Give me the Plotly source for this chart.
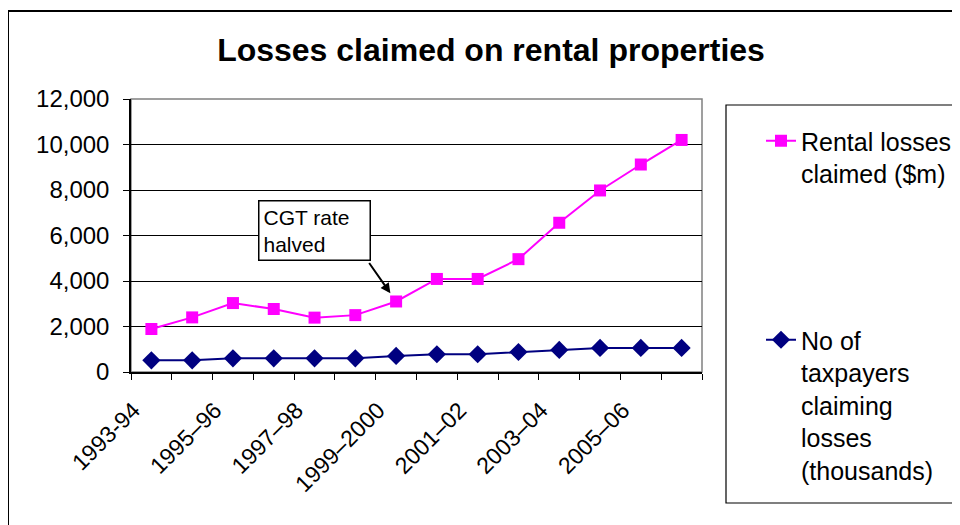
import plotly.graph_objects as go

# financial years (every second one labelled on the axis)
seasons = ["1993-94", "1994–95", "1995–96", "1996–97", "1997–98", "1998–99", "1999–2000",
           "2000–01", "2001–02", "2002–03", "2003–04", "2004–05", "2005–06", "2006–07"]
rental_losses = [1890, 2400, 3030, 2770, 2390, 2500, 3100, 4090, 4090, 4960, 6560, 7980, 9120, 10200]
taxpayers = [515, 515, 600, 600, 600, 600, 705, 780, 780, 880, 970, 1060, 1060, 1060]
tick_text = [s if i % 2 == 0 else "" for i, s in enumerate(seasons)]

FONT = "Arial, Liberation Sans, sans-serif"
W, H = 960, 525
OFF = 8  # page body margin in front of the figure
# plot area wanted on the page: left 131, right 702, top 99, bottom 372
L, T = 131 - OFF, 99 - OFF
R, B = W - (702 - OFF), H - (372 - OFF)
PW, PH = W - L - R, H - T - B


def px_x(px):
    return (px - OFF - L) / PW


def px_y(py):
    return (H - B - (py - OFF)) / PH


def cx(px):
    return (px - OFF) / W


def cy(py):
    return 1 - (py - OFF) / H


fig = go.Figure()

fig.add_trace(go.Scatter(
    x=seasons, y=rental_losses,
    mode="lines+markers",
    name="Rental losses<br>claimed ($m)",
    line=dict(color="#FF00FF", width=2),
    marker=dict(symbol="square", size=12, color="#FF00FF"),
    legend="legend"
))

fig.add_trace(go.Scatter(
    x=seasons, y=taxpayers,
    mode="lines+markers",
    name="No of<br>taxpayers<br>claiming<br>losses<br>(thousands)",
    line=dict(color="#000080", width=2),
    marker=dict(symbol="diamond", size=14, color="#000080"),
    legend="legend2"
))

# plot area border (grey)
fig.add_shape(type="rect", xref="x domain", yref="y domain", x0=0, x1=1, y0=0, y1=1,
              line=dict(color="#808080", width=1.5), layer="below")

# legend box
fig.add_shape(type="rect", xref="paper", yref="paper",
              x0=px_x(726), x1=px_x(1010), y0=px_y(503), y1=px_y(105),
              line=dict(color="black", width=1.2))

# outer chart border
fig.add_shape(type="rect", xref="paper", yref="paper",
              x0=px_x(8), x1=px_x(1050), y0=px_y(620), y1=px_y(11),
              line=dict(color="black", width=2))

# callout box
fig.add_annotation(
    x=seasons[4], y=6230, xref="x", yref="y",
    text="CGT rate<br>halved", showarrow=False, align="left",
    width=102, bordercolor="black", borderwidth=1.5, borderpad=4, bgcolor="white",
    font=dict(family=FONT, size=21, color="black")
)
# arrow pointing at 1999-2000
fig.add_annotation(
    x=seasons[6], y=rental_losses[6], xref="x", yref="y",
    text="", showarrow=True, ax=-28, ay=-40,
    arrowhead=2, arrowsize=1, arrowwidth=2, arrowcolor="black", standoff=10
)

fig.update_layout(
    width=W, height=H,
    margin=dict(l=L, r=R, t=T, b=B, autoexpand=False),
    paper_bgcolor="white", plot_bgcolor="white",
    font=dict(family=FONT, size=23, color="black"),
    title=dict(text="<b>Losses claimed on rental properties</b>",
               x=cx(491), xanchor="center", xref="container",
               y=cy(50), yanchor="middle", yref="container",
               font=dict(family=FONT, size=32, color="black")),
    legend=dict(x=cx(761), y=cy(118), xanchor="left", yanchor="top",
                xref="container", yref="container",
                font=dict(family=FONT, size=25, color="black"),
                bgcolor="rgba(0,0,0,0)", valign="top"),
    legend2=dict(x=cx(761), y=cy(317), xanchor="left", yanchor="top",
                 xref="container", yref="container",
                 font=dict(family=FONT, size=25, color="black"),
                 bgcolor="rgba(0,0,0,0)", valign="top"),
    showlegend=True,
)

fig.update_xaxes(
    type="category", range=[-0.5, len(seasons) - 0.5], automargin=False,
    tickmode="array", tickvals=seasons, ticktext=tick_text,
    tickson="boundaries", ticks="outside", ticklen=6, tickcolor="black",
    tickangle=-45, ticklabelstandoff=14, ticklabelshift=-18,
    showline=True, linecolor="black", linewidth=1.5, showgrid=False,
    tickfont=dict(family=FONT, size=23, color="black")
)
fig.update_yaxes(
    range=[0, 12000], dtick=2000, tickformat=",", automargin=False,
    ticks="outside", ticklen=6, tickcolor="black",
    ticklabelstandoff=9,
    showline=True, linecolor="black", linewidth=1.5,
    showgrid=True, gridcolor="black", gridwidth=1, zeroline=False,
    tickfont=dict(family=FONT, size=24, color="black")
)

fig.write_html("out.html")
